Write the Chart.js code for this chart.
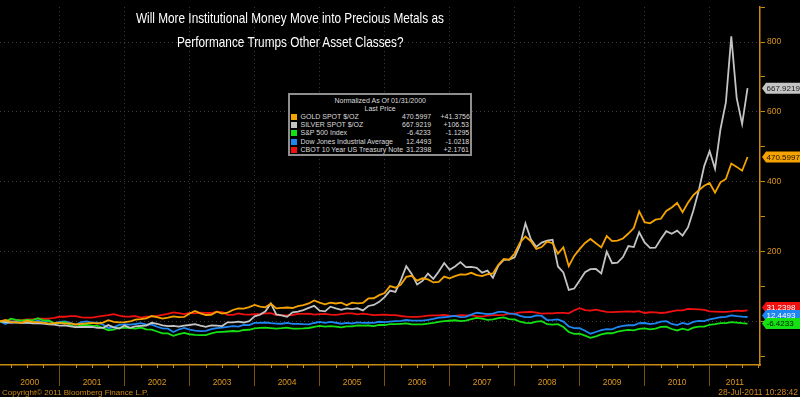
<!DOCTYPE html>
<html><head><meta charset="utf-8">
<script src="https://cdn.jsdelivr.net/npm/chart.js@4.4.1/dist/chart.umd.min.js"></script>
<style>
html,body{margin:0;padding:0;background:#000;}
#wrap{position:relative;width:800px;height:397px;overflow:hidden;background:#000;}
#c{position:absolute;left:0;top:0;}
.tl{position:absolute;white-space:nowrap;font-family:'Liberation Sans',Arial,sans-serif;font-size:15px;line-height:16px;color:#fff;transform-origin:center center;}
#box{position:absolute;left:288px;top:93px;width:180px;height:59px;border:2px solid #8e8e8e;background:#000;}
.lg{position:absolute;white-space:nowrap;font-family:'Liberation Sans',Arial,sans-serif;font-size:7px;line-height:8px;color:#dcdcdc;}
.sw{position:absolute;width:6px;height:6px;}
.ft{position:absolute;white-space:nowrap;font-family:'Liberation Sans',Arial,sans-serif;font-size:8px;line-height:9px;color:#d08a18;}
</style></head>
<body>
<div id="wrap">
<canvas id="c" width="800" height="397"></canvas>
<div class="tl" id="t1">Will More Institutional Money Move into Precious Metals as</div>
<div class="tl" id="t2">Performance Trumps Other Asset Classes?</div>
<div id="box"></div>
<div class="ft" id="copy" style="left:2px;top:388px;">Copyright© 2011 Bloomberg Finance L.P.</div>
<div class="ft" id="stamp" style="right:2px;top:388px;font-size:8.5px;">28-Jul-2011 10:28:42</div>
</div>
<script>
// ---- data: normalized % change since 01/31/2000, month-end points Jan 2000 .. Jul 2011 ----
const startMonth = '2000-01';
const years = ['2000','2001','2002','2003','2004','2005','2006','2007','2008','2009','2010','2011'];

const gold = [
0,3.7,-2.3,-2.9,-3.9,1.7,-2.3,-2.2,-3.4,-6.6,-5.0,-3.7,
-6.6,-5.9,-9.0,-7.1,-5.6,-4.5,-6.1,-3.6,3.5,-1.6,-2.8,-2.4,
-0.4,4.8,6.4,8.8,15.3,12.4,7.6,10.4,14.3,11.9,12.6,22.6,
29.7,22.7,18.2,18.9,27.6,22.1,25.2,32.6,37.0,36.4,40.6,47.0,
42.0,40.1,50.7,37.1,38.8,39.7,38.2,43.8,46.7,51.2,60.0,53.8,
49.0,53.7,51.1,53.8,46.3,53.7,51.4,53.0,65.6,66.2,75.0,81.1,
100.8,96.3,105.4,127.3,130.5,116.6,123.3,120.1,111.5,113.1,128.3,123.1,
129.6,134.5,133.6,139.0,132.7,129.6,134.9,137.2,162.3,178.7,176.6,194.3,
225.9,242.9,229.5,207.5,212.7,228.4,224.0,194.0,212.2,158.0,187.5,207.0,
224.6,236.0,223.5,211.8,244.3,229.9,231.5,237.3,251.5,267.1,315.0,283.9,
280.7,291.2,293.8,316.3,326.2,339.1,312.6,339.8,361.4,375.4,388.4,396.1,
368.4,398.1,407.9,452.0,442.4,431.4,470.5997];

const silver = [
0,-2.1,-4.0,-3.1,-4.6,-3.5,-5.6,-5.4,-6.5,-8.6,-9.6,-12.3,
-11.7,-14.4,-16.5,-16.1,-16.1,-16.1,-18.6,-18.8,-10.7,-17.1,-20.9,-12.1,
-18.6,-14.2,-12.7,-11.9,-4.0,-6.9,-11.7,-13.6,-12.7,-15.0,-12.1,-10.4,
-7.9,-12.1,-15.9,-11.5,-12.1,-13.4,-2.7,-3.1,-0.8,-3.3,0.8,14.4,
18.8,28.6,51.3,19.8,16.9,12.9,25.7,28.0,32.4,38.8,44.3,30.9,
28.6,42.0,37.2,33.0,37.0,35.1,37.4,31.5,44.0,47.0,55.9,69.5,
88.1,84.3,117.9,158.2,135.9,105.4,115.9,137.0,121.7,142.8,167.2,147.6,
157.2,169.7,155.3,156.2,153.4,139.4,145.3,125.0,159.3,176.0,176.6,183.3,
218.6,280.4,234.9,213.4,225.5,231.1,233.8,157.2,140.0,90.0,93.9,116.9,
140.7,149.3,149.9,137.4,199.6,166.6,168.3,184.1,215.7,212.9,255.1,226.1,
210.6,211.1,235.9,258.4,250.7,259.7,245.7,268.9,317.7,374.9,444.7,487.9,
436.7,550.3,626.9,816.0,639.4,565.1,667.9219];

const sp500 = [
0,-2.0,7.5,4.2,1.9,4.3,2.6,8.8,3.0,2.5,-5.7,-5.3,
-2.0,-11.1,-16.8,-10.4,-9.9,-12.2,-13.1,-18.7,-25.4,-24.0,-18.3,-17.7,
-19.0,-20.6,-17.7,-22.8,-23.5,-29.0,-34.6,-34.3,-41.5,-36.5,-32.9,-36.9,
-38.6,-39.7,-39.2,-34.3,-30.9,-30.1,-29.0,-27.7,-28.6,-24.7,-24.1,-20.3,
-18.9,-17.9,-19.2,-20.6,-19.6,-18.2,-21.0,-20.8,-20.1,-19.0,-15.8,-13.1,
-15.3,-13.7,-15.3,-17.0,-14.6,-14.6,-11.5,-12.5,-11.9,-13.4,-10.4,-10.5,
-8.2,-8.2,-7.1,-6.0,-8.9,-8.9,-8.5,-6.5,-4.2,-1.2,0.4,1.7,
3.1,0.9,1.9,6.3,9.8,7.8,4.4,5.7,9.5,11.1,6.2,5.3,
-1.1,-4.6,-5.2,-0.6,0.4,-8.2,-9.1,-8.0,-16.4,-30.5,-35.7,-35.2,
-40.8,-47.3,-42.8,-37.4,-34.1,-34.1,-29.2,-26.8,-24.2,-25.7,-21.4,-20.0,
-23.0,-20.8,-16.1,-14.9,-21.9,-26.1,-21.0,-24.8,-18.2,-15.2,-15.3,-9.8,
-7.8,-4.8,-4.9,-2.2,-3.5,-5.3,-6.4233];

const dow = [
0,-7.4,-0.2,-1.9,-3.8,-4.5,-3.8,2.5,-2.7,0.3,-4.8,-1.4,
-0.5,-4.1,-9.7,-1.9,-0.3,-4.0,-3.8,-9.1,-19.1,-17.1,-10.0,-8.4,
-9.3,-7.6,-4.9,-9.1,-9.3,-15.5,-20.1,-20.8,-30.6,-23.3,-18.7,-23.8,
-26.4,-27.9,-27.0,-22.5,-19.1,-17.9,-15.6,-13.9,-15.2,-10.4,-10.6,-4.5,
-4.1,-3.3,-5.3,-6.5,-6.9,-4.6,-7.3,-7.0,-7.9,-8.4,-4.7,-1.4,
-4.1,-1.6,-4.0,-6.8,-4.3,-6.1,-2.7,-4.2,-3.4,-4.6,-1.2,-2.0,
-0.7,0.5,1.5,3.9,2.1,1.9,2.2,4.0,6.8,10.4,11.7,13.9,
15.4,12.1,12.9,19.4,24.6,22.6,20.8,22.1,27.0,27.3,22.2,21.2,
15.6,12.1,12.1,17.2,15.5,3.7,4.0,5.5,-0.8,-14.8,-19.3,-19.8,
-26.9,-35.4,-30.5,-25.3,-22.3,-22.8,-16.2,-13.2,-11.2,-11.2,-5.4,-4.7,
-8.0,-5.6,-0.8,0.6,-7.4,-10.7,-4.3,-8.5,-1.4,1.6,0.6,5.8,
8.7,11.8,12.6,17.1,14.9,13.5,12.4493];

const cbot = [
0,2.2,5.5,3.8,3.3,5.5,5.5,8.0,7.4,7.8,10.2,13.2,
13.2,15.0,14.8,11.3,10.9,10.7,13.7,15.5,17.6,20.6,16.2,13.7,
13.9,15.1,10.8,13.4,13.8,15.8,18.7,21.4,25.6,23.5,20.8,24.0,
22.8,25.1,24.2,23.9,27.8,26.6,18.7,18.3,22.7,19.7,19.4,20.4,
21.3,22.7,23.8,18.1,16.9,17.2,18.2,21.4,21.4,22.2,19.5,20.6,
21.4,19.4,18.4,20.7,22.6,22.9,20.0,22.2,19.7,17.7,18.3,19.2,
18.0,17.9,15.3,13.5,13.1,12.9,14.2,16.3,17.2,17.4,18.6,16.6,
15.5,17.8,17.0,17.2,15.0,13.8,16.3,18.1,17.6,18.5,23.0,22.3,
26.0,26.7,27.5,24.8,22.0,22.8,23.0,24.1,24.0,23.0,31.6,37.5,
32.3,30.7,33.8,29.9,27.0,26.5,26.9,27.6,28.3,27.5,29.3,23.9,
26.0,25.8,23.9,25.4,28.5,31.2,31.7,35.4,35.0,34.3,32.6,28.5,
27.8,27.4,27.0,28.5,30.5,29.6,31.2398];

const seriesNames = ['GOLD SPOT $/OZ','SILVER SPOT $/OZ','S&P 500 Index','Dow Jones Industrial Average','CBOT 10 Year US Treasury Note'];
const lastPrice = ['470.5997','667.9219','-6.4233','12.4493','31.2398'];
const netChange = ['+41.3756','+106.53','-1.1295','-1.0218','+2.1761'];
const legendTitle = ['Normalized As Of 01/31/2000','Last Price'];
const yLabelValues = [200,400,600,800];

// ---- styles ----
const lineColors = ['#f5a300','#c4c4c4','#14e014','#1e86f0','#f01010'];
const tagTextColors = ['#1a1000','#1a1a1a','#001a00','#ffffff','#ffffff'];
const axisColor = '#c98a12';
const labelColor = '#dc961c';
const sepColor = '#7a5210';
const gridColor = '#3c3c3c';
const allSeries = [gold, silver, sp500, dow, cbot];

// x positions in months since Jan 2000 (month-end samples)
const xMax = 140.3;
const boundaries = [], tickVals = [], tickLabels = [];
for (let k = 1; k < years.length; k++) { boundaries.push(11 + 12 * (k - 1)); }
boundaries.forEach(b => { tickVals.push(b); tickLabels.push(''); });
years.forEach((yr, k) => {
  const lo = k === 0 ? 0 : boundaries[k - 1];
  const hi = k === years.length - 1 ? xMax : boundaries[k];
  tickVals.push((lo + hi) / 2); tickLabels.push(yr);
});
const isBoundary = v => boundaries.indexOf(v) >= 0;

// ---- decorations: quarterly minor ticks + last-value tags ----
const decor = {
  id: 'decor',
  afterDraw(chart) {
    const {ctx, chartArea: a} = chart;
    const xs = chart.scales.x, ys = chart.scales.y;
    ctx.save();
    ctx.strokeStyle = axisColor; ctx.lineWidth = 1;
    for (let m = 2; m < xs.max; m += 3) {
      if (isBoundary(m)) continue;
      const px = Math.round(xs.getPixelForValue(m)) + 0.5;
      ctx.beginPath(); ctx.moveTo(px, a.bottom); ctx.lineTo(px, a.bottom + 3); ctx.stroke();
    }
    // tags
    const items = allSeries.map((s, i) => ({i, v: s[s.length - 1], y: ys.getPixelForValue(s[s.length - 1])}));
    items.sort((p, q) => p.y - q.y);
    for (let j = items.length - 2; j >= 0; j--) {
      items[j].y = Math.min(items[j].y, items[j + 1].y - 8);
    }
    ctx.font = '8px "Liberation Sans", Arial, sans-serif';
    ctx.textBaseline = 'middle';
    items.forEach(it => {
      const tip = a.right + 2, body = a.right + 6, right = 800, h = 5.5;
      ctx.fillStyle = lineColors[it.i];
      ctx.beginPath();
      ctx.moveTo(tip, it.y);
      ctx.lineTo(body, it.y - h);
      ctx.lineTo(right, it.y - h);
      ctx.lineTo(right, it.y + h);
      ctx.lineTo(body, it.y + h);
      ctx.closePath(); ctx.fill();
      ctx.fillStyle = tagTextColors[it.i];
      ctx.fillText(lastPrice[it.i], body + 0.5, it.y + 0.5);
    });
    ctx.restore();
  }
};

Chart.defaults.font.family = '"Liberation Sans", Arial, sans-serif';

new Chart(document.getElementById('c'), {
  type: 'line',
  data: {
    datasets: allSeries.map((s, i) => ({
      label: seriesNames[i],
      data: s.map((v, m) => ({x: m, y: v})),
      borderColor: lineColors[i],
      borderWidth: 1.8,
      pointRadius: 0,
      tension: 0,
      fill: false
    }))
  },
  options: {
    responsive: false, animation: false, devicePixelRatio: 1,
    layout: {padding: 0},
    plugins: {legend: {display: false}, tooltip: {enabled: false}, title: {display: false}},
    scales: {
      x: {
        type: 'linear', min: 0, max: xMax,
        afterBuildTicks: s => { s.ticks = tickVals.map(v => ({value: v})); },
        afterFit: s => { s.height = 32; },
        ticks: {autoSkip: false, maxRotation: 0, minRotation: 0, padding: -8, color: labelColor,
                font: {size: 8.5}, callback: (v, idx) => tickLabels[idx]},
        grid: {
          color: c => (c.tick && isBoundary(c.tick.value)) ? gridColor : 'rgba(0,0,0,0)',
          tickColor: c => (c.tick && isBoundary(c.tick.value)) ? sepColor : 'rgba(0,0,0,0)',
          tickLength: 21, lineWidth: 1
        },
        border: {display: true, color: axisColor, width: 1.5, dash: [1, 3]}
      },
      y: {
        position: 'right', min: -125, max: 900,
        afterFit: s => { s.width = 40; },
        ticks: {stepSize: 100, includeBounds: false, color: labelColor, padding: 2, font: {size: 8.5},
                callback: v => yLabelValues.indexOf(v) >= 0 ? String(v) : ''},
        grid: {
          color: c => (c.tick && c.tick.value % 200 === 0) ? gridColor : 'rgba(0,0,0,0)',
          tickColor: axisColor, tickLength: 5, lineWidth: 1
        },
        border: {display: true, color: axisColor, width: 1.5, dash: [1, 3]}
      }
    }
  },
  plugins: [decor]
});

// ---- title (centered, fitted to reference width) ----
(function () {
  const cx = 290, target = 308;
  const t1 = document.getElementById('t1'), t2 = document.getElementById('t2');
  const sc = target / t1.offsetWidth;
  [[t1, 10], [t2, 34]].forEach(([el, top]) => {
    el.style.left = (cx - el.offsetWidth / 2) + 'px';
    el.style.top = top + 'px';
    el.style.transform = 'scaleX(' + sc + ')';
  });
})();

// ---- legend box ----
(function () {
  const wrap = document.getElementById('wrap');
  const add = (cls, txt, css) => {
    const d = document.createElement('div'); d.className = cls; if (txt !== null) d.textContent = txt;
    Object.assign(d.style, css); wrap.appendChild(d); return d;
  };
  const centerX = 380;
  legendTitle.forEach((t, k) => {
    const d = add('lg', t, {top: (97 + k * 8.3) + 'px'});
    d.style.left = (centerX - d.offsetWidth / 2) + 'px';
  });
  seriesNames.forEach((n, i) => {
    const cy = 116.7 + i * 8.3;
    add('sw', null, {left: '291px', top: (cy - 3) + 'px', background: lineColors[i]});
    add('lg', n, {left: '300.5px', top: (cy - 4) + 'px'});
    const v = add('lg', lastPrice[i], {top: (cy - 4) + 'px'});
    v.style.left = (431 - v.offsetWidth) + 'px';
    const c = add('lg', netChange[i], {top: (cy - 4) + 'px'});
    c.style.left = (469.5 - c.offsetWidth) + 'px';
  });
})();
</script>
</body></html>
